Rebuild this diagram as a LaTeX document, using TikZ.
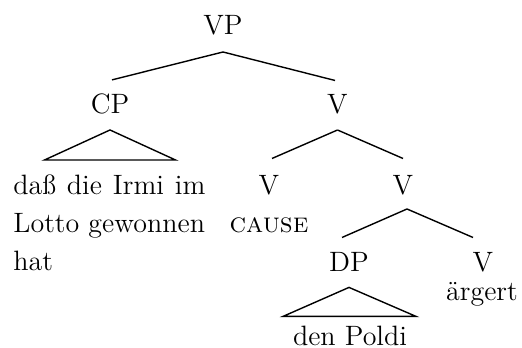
\documentclass[tikz,border=0pt]{standalone}
\begin{document}
\begin{tikzpicture}[x=0.5pt,y=-0.5pt,
  catnode/.style={inner sep=0pt,anchor=base,font=\fontsize{14}{19}\selectfont},
  leafnode/.style={inner sep=0pt,font=\fontsize{14}{19}\selectfont},
  branch/.style={line width=0.7pt,line join=miter}]
\useasboundingbox (0,0) rectangle (522,347);
% categories
\node[catnode] (VP) at (223,35) {VP};
\node[catnode] (CP) at (110,113) {CP};
\node[catnode] (V1) at (337.5,113) {V};
\node[catnode] (Vc) at (269,194) {V};
\node[catnode] (V2) at (403,194) {V};
\node[catnode] (DP) at (349,271) {DP};
\node[catnode] (V3) at (483,271) {V};
% leaves
\node[leafnode,anchor=base west,text width=96pt,align=justify] (cpleaf) at (13,194)
  {\hbox to 96pt{daß\hfill die\hfill Irmi\hfill im}\par Lotto gewonnen\par hat};
\node[leafnode,anchor=base] (cause) at (269,232) {\textsc{cause}};
\node[leafnode,anchor=base] (aergert) at (482,300) {ärgert};
\node[leafnode,anchor=base] (poldi) at (350,345) {den Poldi};
% branches
\draw[branch] ([yshift=-8pt]VP.south) -- ([xshift=1pt,yshift=6.5pt]CP.north);
\draw[branch] ([yshift=-8pt]VP.south) -- ([xshift=-1.25pt,yshift=6.5pt]V1.north);
\draw[branch] ([yshift=-8pt]V1.south) -- ([xshift=1.5pt,yshift=8pt]Vc.north);
\draw[branch] ([yshift=-8pt]V1.south) -- ([yshift=8pt]V2.north);
\draw[branch] ([xshift=2pt,yshift=-7pt]V2.south) -- ([xshift=-3.5pt,yshift=7pt]DP.north);
\draw[branch] ([xshift=2pt,yshift=-7pt]V2.south) -- ([xshift=-5pt,yshift=7pt]V3.north);
% triangles
\draw[branch] ([yshift=-8pt]CP.south) -- ++(-65.5,30) -- ++(131,0) -- cycle;
\draw[branch] ([yshift=-8pt]DP.south) -- ++(-66,29) -- ++(133,0) -- cycle;
\end{tikzpicture}
\end{document}
